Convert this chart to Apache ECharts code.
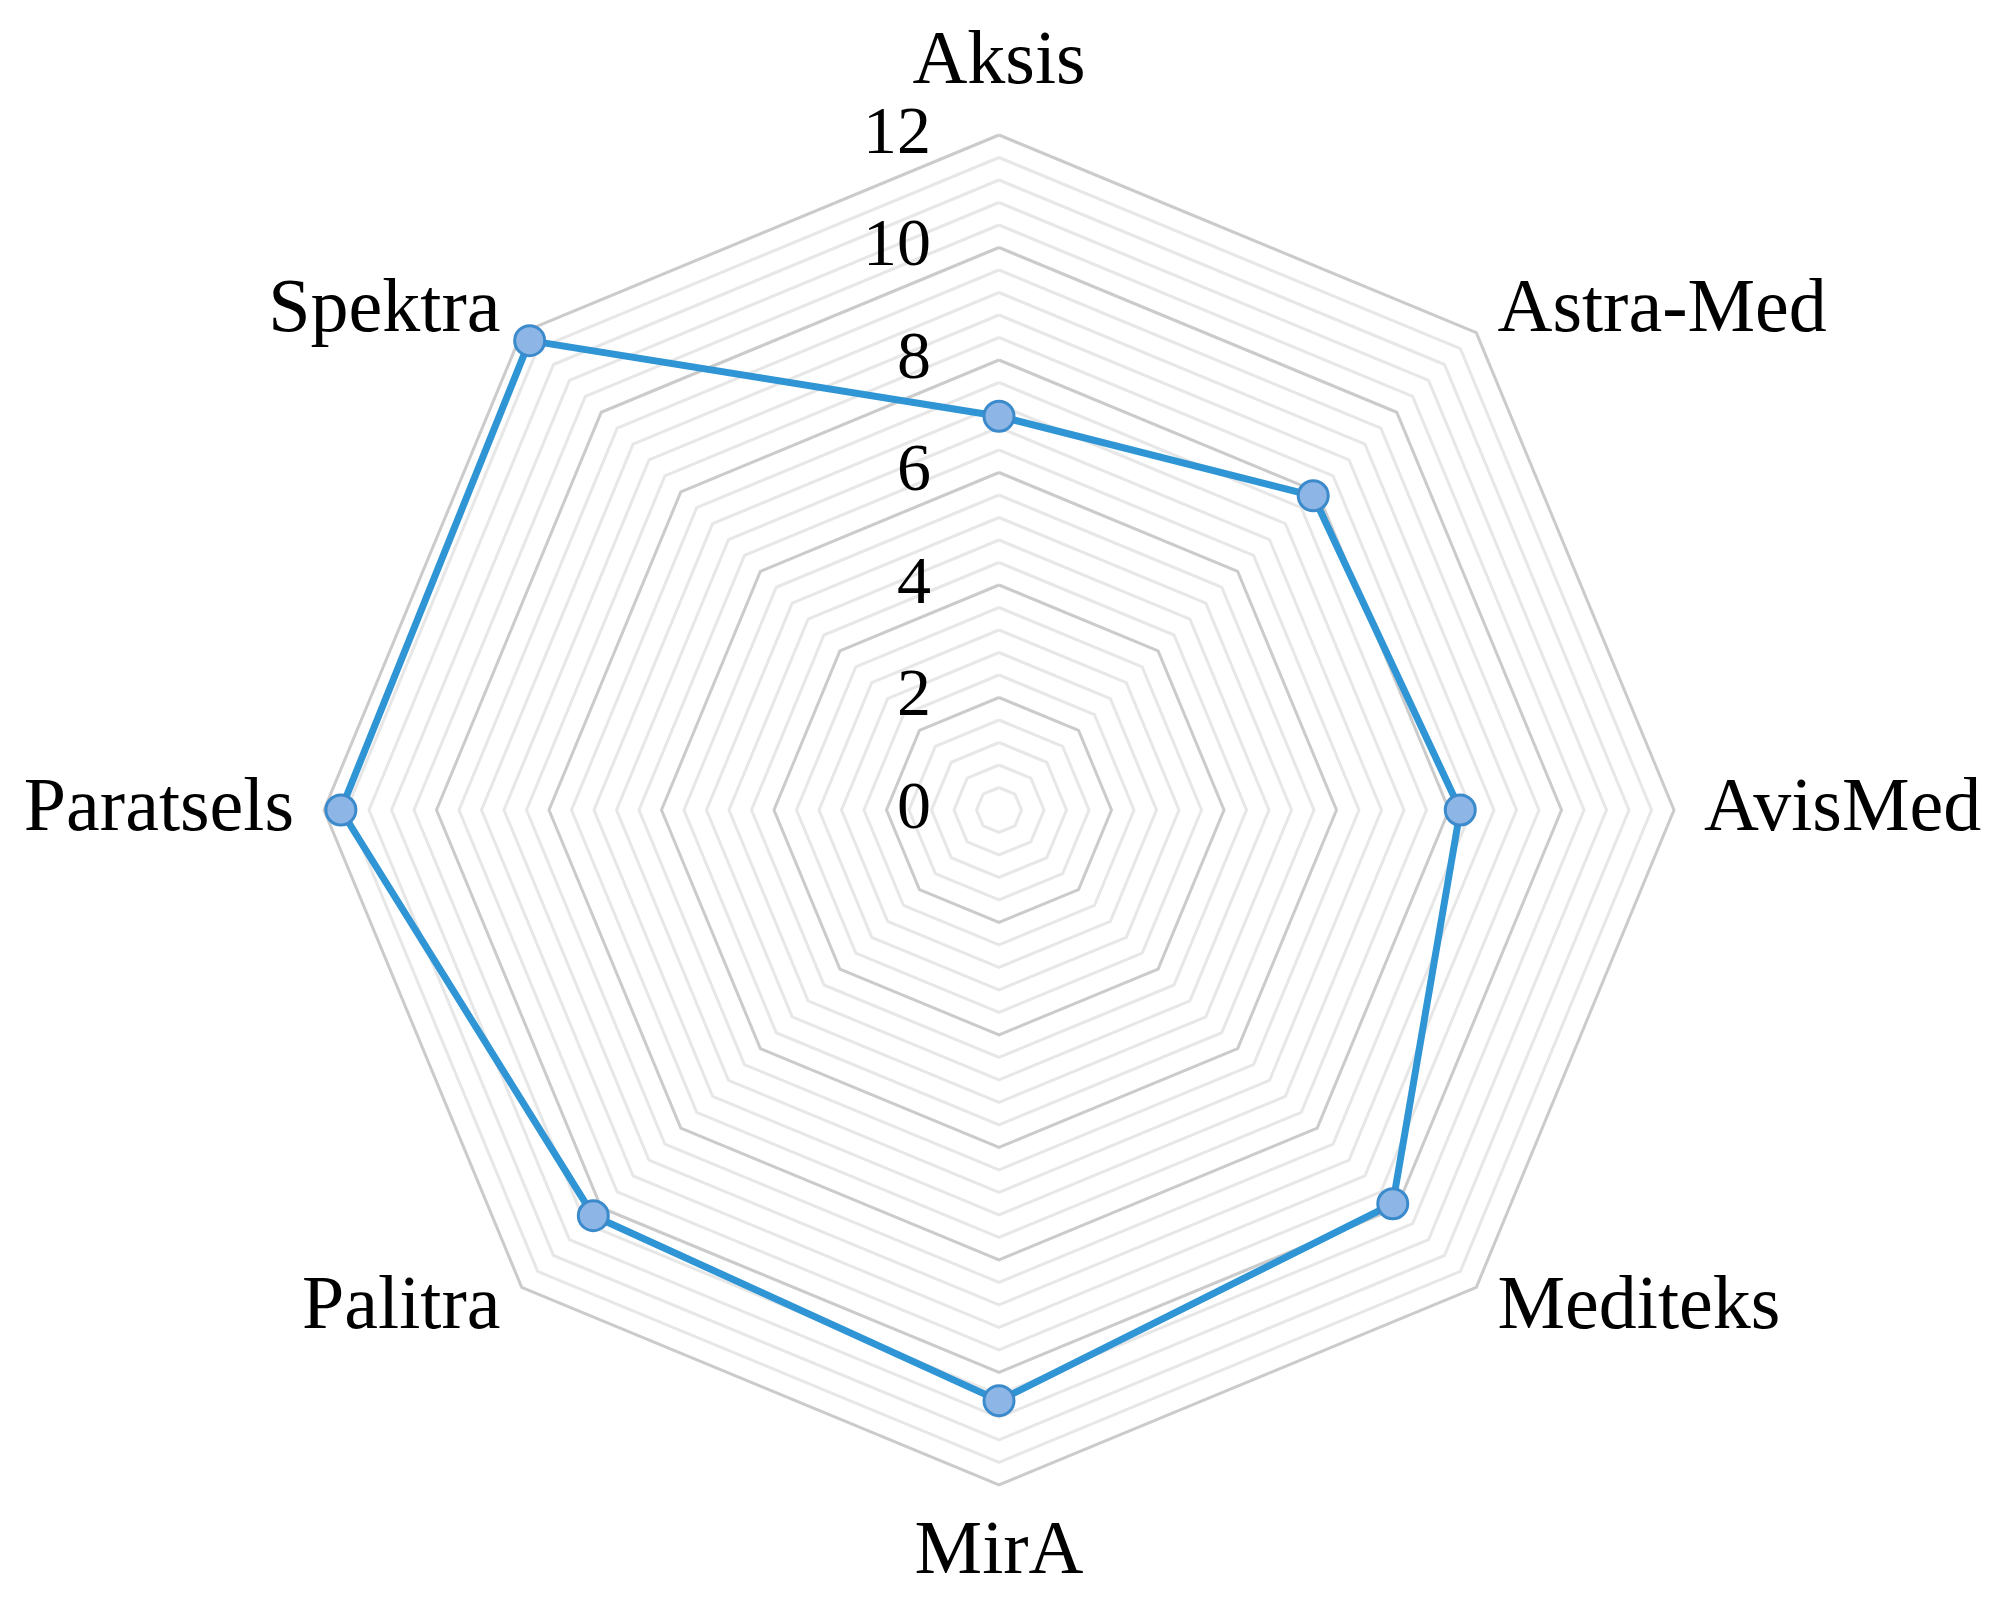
<!DOCTYPE html>
<html>
<head>
<meta charset="utf-8">
<script src="https://cdn.jsdelivr.net/npm/echarts@6/dist/echarts.min.js"></script>
<style>
html,body{margin:0;padding:0;background:#fff;}
#chart{width:2000px;height:1605px;}
</style>
</head>
<body>
<div id="chart"></div>
<script>
// Categories listed clockwise starting from the top
const categories = ['Aksis', 'Astra-Med', 'AvisMed', 'Mediteks', 'MirA', 'Palitra', 'Paratsels', 'Spektra'];
const values = [7.0, 7.9, 8.2, 9.9, 10.5, 10.2, 11.7, 11.8];
const tickLabels = ['0', '2', '4', '6', '8', '10', '12'];
const axisMax = 12;
const minorPerMajor = 5;

// ECharts places indicators counter-clockwise; reorder so they appear clockwise
const order = [0].concat(categories.map((_, i) => i).slice(1).reverse());
const indicators = order.map((i, k) => {
  const ind = { name: categories[i], min: 0, max: axisMax };
  if (k === 0) {
    ind.axisLabel = { show: true };
  }
  return ind;
});
const seriesValues = order.map(i => values[i]);

const majorStep = axisMax / (tickLabels.length - 1);
const splitCount = (tickLabels.length - 1) * minorPerMajor;

const chart = echarts.init(document.getElementById('chart'), null, { renderer: 'canvas' });
chart.setOption({
  backgroundColor: '#ffffff',
  animation: false,
  radar: {
    center: [999, 810],
    radius: 675,
    startAngle: 90,
    shape: 'polygon',
    splitNumber: splitCount,
    indicator: indicators,
    axisName: {
      color: '#000000',
      fontSize: 76,
      fontFamily: '"Liberation Serif", "Times New Roman", serif'
    },
    nameGap: 30,
    axisLine: { show: false },
    axisTick: { show: false },
    splitArea: { show: false },
    splitLine: {
      lineStyle: {
        color: ['#cbcbcb', '#e7e7e7', '#e7e7e7', '#e7e7e7', '#e7e7e7'],
        width: 3
      }
    },
    axisLabel: {
      show: false,
      color: '#000000',
      fontSize: 68,
      fontFamily: '"Liberation Serif", "Times New Roman", serif',
      margin: 68,
      formatter: function (v) {
        const q = v / majorStep;
        const r = Math.round(q);
        if (Math.abs(q - r) < 1e-6 && r >= 0 && r < tickLabels.length) return tickLabels[r];
        return '';
      }
    }
  },
  series: [{
    type: 'radar',
    symbol: 'circle',
    symbolSize: 30,
    lineStyle: { color: '#2f95d4', width: 7 },
    itemStyle: { color: '#8db6e6', borderColor: '#3b8bcc', borderWidth: 3 },
    data: [{ value: seriesValues }]
  }]
});
</script>
</body>
</html>
